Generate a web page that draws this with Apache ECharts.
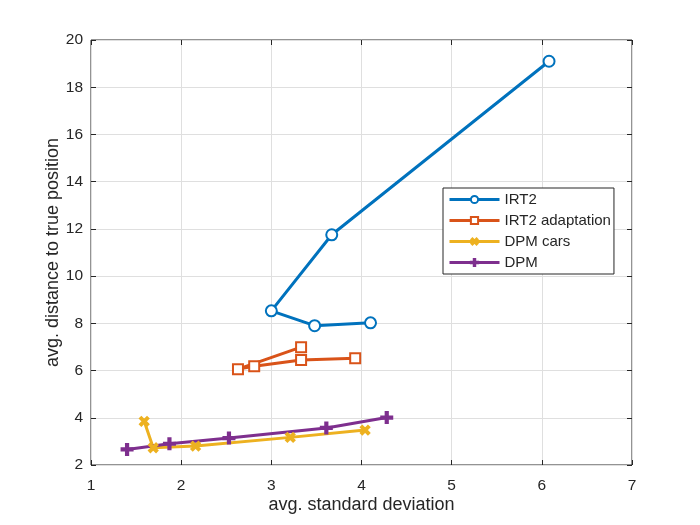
<!DOCTYPE html>
<html>
<head>
<meta charset="utf-8">
<script src="https://cdn.jsdelivr.net/npm/echarts@6/dist/echarts.min.js"></script>
<style>
html, body { margin: 0; padding: 0; background: #fff; }
#chartmain { width: 700px; height: 525px; }
</style>
</head>
<body>
<div id="chartmain"></div>
<script>
// values
var seriesNames = ['IRT2', 'IRT2 adaptation', 'DPM cars', 'DPM'];
var irt2X = [4.10, 3.48, 3.00, 3.67, 6.08];
var irt2Y = [8.02, 7.90, 8.53, 11.75, 19.10];
var adaptX = [3.33, 2.63, 2.81, 3.33, 3.93];
var adaptY = [6.99, 6.06, 6.18, 6.45, 6.52];
var carsX = [1.59, 1.69, 2.16, 3.21, 4.04];
var carsY = [3.85, 2.73, 2.80, 3.17, 3.48];
var dpmX = [1.40, 1.87, 2.53, 3.61, 4.28];
var dpmY = [2.66, 2.90, 3.14, 3.57, 4.01];
var colors = ['#0072BD', '#D95319', '#EDB120', '#7E2F8E'];

var plusPath = 'path://M4,0H6V4H10V6H6V10H4V6H0V4H4Z';
var fontFam = 'Liberation Sans, Arial, sans-serif';

function pairs(xs, ys) {
	var out = [];
	for (var i = 0; i < xs.length; i++) out.push([xs[i], ys[i]]);
	return out;
}

function makeSeries(idx, xs, ys, symbol, size, rotate) {
	return {
		name : seriesNames[idx],
		type : 'line',
		data : pairs(xs, ys),
		symbol : symbol,
		symbolSize : size,
		symbolRotate : rotate || 0,
		showAllSymbol : true,
		lineStyle : { color : colors[idx], width : 3 },
		itemStyle : { color : colors[idx], borderColor : colors[idx], borderWidth : 2 },
		emphasis : { disabled : true },
		z : 3
	};
}

var axisText = { color : '#262626', fontSize : 15.5, fontFamily : fontFam };
var gridLine = { show : true, lineStyle : { color : '#dfdfdf', width : 1 } };
var tickStyle = { show : true, inside : true, length : 5, lineStyle : { color : '#262626' } };

var option = {
	animation : false,
	backgroundColor : '#fff',
	color : colors,
	grid : {
		left : 91,
		right : 68,
		top : 40,
		bottom : 60,
		show : true,
		borderColor : '#262626',
		borderWidth : 1
	},
	legend : {
		left : 443,
		top : 188,
		orient : 'vertical',
		backgroundColor : '#fff',
		borderColor : '#262626',
		borderWidth : 1,
		borderRadius : 0,
		padding : [4, 3, 4, 5],
		itemWidth : 50,
		itemHeight : 9,
		itemGap : 6,
		lineStyle : { width : 3 },
		textStyle : { color : '#262626', fontSize : 15, fontFamily : fontFam },
		data : seriesNames
	},
	xAxis : [ {
		type : 'value',
		min : 1,
		max : 7,
		interval : 1,
		name : 'avg. standard deviation',
		nameLocation : 'middle',
		nameGap : 31,
		nameMoveOverlap : false,
		nameTextStyle : { color : '#262626', fontSize : 18, fontFamily : fontFam },
		axisLine : { show : false },
		axisTick : tickStyle,
		axisLabel : Object.assign({ margin : 13 }, axisText),
		splitLine : gridLine
	}, {
		type : 'value',
		position : 'top',
		min : 1,
		max : 7,
		interval : 1,
		axisLine : { show : false },
		axisTick : tickStyle,
		axisLabel : { show : false },
		splitLine : { show : false }
	} ],
	yAxis : [ {
		type : 'value',
		min : 2,
		max : 20,
		interval : 2,
		name : 'avg. distance to true position',
		nameLocation : 'middle',
		nameGap : 29,
		nameMoveOverlap : false,
		nameTextStyle : { color : '#262626', fontSize : 18, fontFamily : fontFam },
		axisLine : { show : false },
		axisTick : tickStyle,
		axisLabel : Object.assign({ margin : 8 }, axisText),
		splitLine : gridLine
	}, {
		type : 'value',
		position : 'right',
		min : 2,
		max : 20,
		interval : 2,
		axisLine : { show : false },
		axisTick : tickStyle,
		axisLabel : { show : false },
		splitLine : { show : false }
	} ],
	series : [
		makeSeries(0, irt2X, irt2Y, 'emptyCircle', 11),
		makeSeries(1, adaptX, adaptY, 'emptyRect', 10),
		makeSeries(2, carsX, carsY, plusPath, 10, 45),
		makeSeries(3, dpmX, dpmY, plusPath, 11)
	]
};

var myChart = echarts.init(document.getElementById('chartmain'));
myChart.setOption(option);
</script>
</body>
</html>
